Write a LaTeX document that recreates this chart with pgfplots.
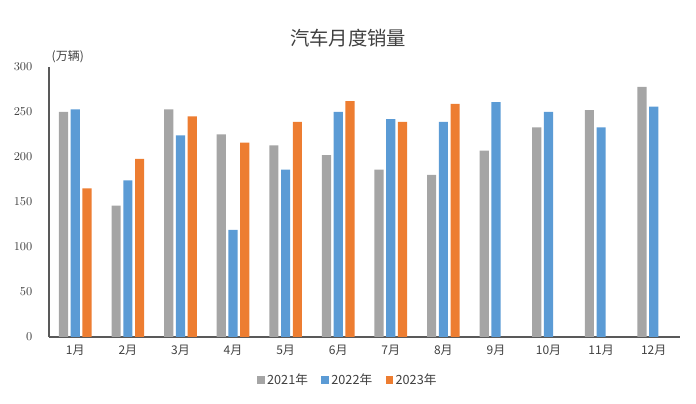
\documentclass[border=0pt]{standalone}
\usepackage{pgfplots}
\pgfplotsset{compat=1.18}
\usepackage{fontspec}
\newfontfamily\cjk{Noto Sans CJK SC}
\definecolor{c21}{HTML}{A5A5A5}
\definecolor{c22}{HTML}{5B9BD5}
\definecolor{c23}{HTML}{ED7D31}
\definecolor{txt}{HTML}{404040}

\begin{document}
\begin{tikzpicture}
\begin{axis}[
    name=ax,
    scale only axis,
    width=473.25pt, height=202.5pt,
    ybar=1.9pt, bar width=6.9pt,
    xmin=-0.5, xmax=11.5, ymin=0, ymax=300,
    xtick={0,...,11},
    xticklabels={1月,2月,3月,4月,5月,6月,7月,8月,9月,10月,11月,12月},
    ytick={0,50,...,300},
    axis x line*=bottom, axis y line*=left,
    axis line style={draw=black!65, line width=0.8pt},
    major tick length=0pt,
    tick label style={color=txt},
    xticklabel style={font=\cjk\fontsize{9}{10}\selectfont, yshift=-2.5pt},
    yticklabel style={font=\fontsize{9.5}{10}\selectfont, xshift=-9pt},
    legend columns=3,
    legend style={draw=none, at={(0.474,-0.159)}, anchor=center,
        font=\cjk\fontsize{9.5}{11}\selectfont, text=txt,
        /tikz/every even column/.append style={column sep=8pt}},
    legend image code/.code={\fill[#1] (0pt,-2.8pt) rectangle (5.6pt,2.8pt);},
    clip=false,
]
\addplot[fill=c21, draw=none] coordinates {
    (0,250) (1,146) (2,253) (3,225) (4,213) (5,202)
    (6,186) (7,180) (8,207) (9,233) (10,252) (11,278)
};
\addplot[fill=c22, draw=none] coordinates {
    (0,253) (1,174) (2,224) (3,119) (4,186) (5,250)
    (6,242) (7,239) (8,261) (9,250) (10,233) (11,256)
};
\addplot[fill=c23, draw=none] coordinates {
    (0,165) (1,198) (2,245) (3,216) (4,239) (5,262)
    (6,239) (7,259)
};
\legend{2021年,2022年,2023年}
\end{axis}
\node[anchor=west, font=\cjk\fontsize{9}{10}\selectfont, text=txt]
    at ([shift={(-1.5pt,7.5pt)}]ax.north west) {(万辆)};
\node[font=\cjk\fontsize{14.5}{16}\selectfont, text=txt]
    at ([shift={(224.25pt,21.75pt)}]ax.north west) {汽车月度销量};
\pgfresetboundingbox
\path[use as bounding box] ([shift={(-36.75pt,-50.25pt)}]ax.south west)
    rectangle ([shift={(12pt,50.25pt)}]ax.north east);
\end{tikzpicture}
\end{document}
